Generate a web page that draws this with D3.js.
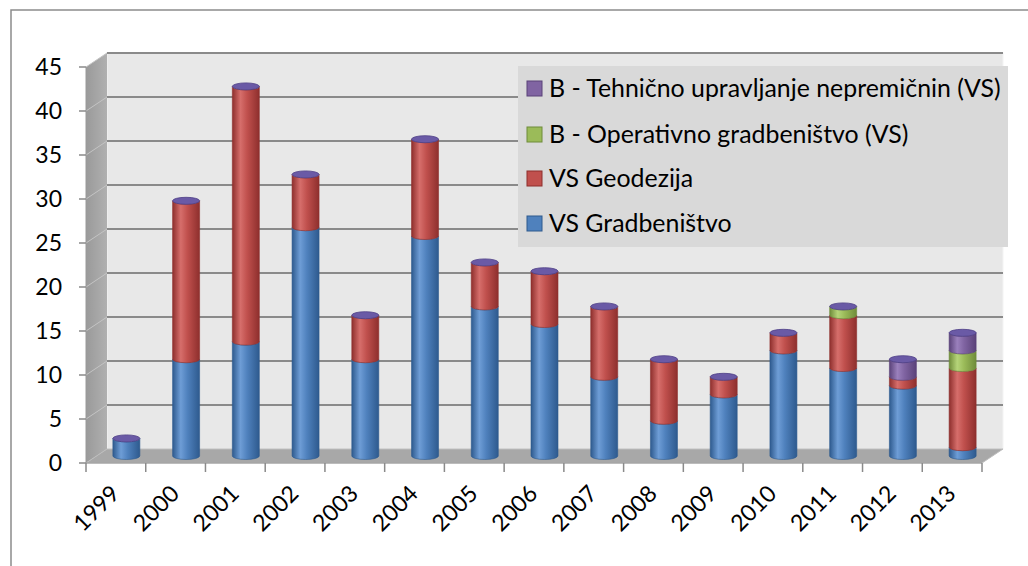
<!DOCTYPE html>
<html><head><meta charset="utf-8">
<script src="https://cdn.jsdelivr.net/npm/d3@7"></script>
<style>html,body{margin:0;padding:0;background:#fff;}svg{display:block;}</style>
</head><body>
<svg id="c" width="1028" height="566"></svg>
<script>
const years = ["1999","2000","2001","2002","2003","2004","2005","2006","2007","2008","2009","2010","2011","2012","2013"];
const gradbenistvo = [2,11,13,26,11,25,17,15,9,4,7,12,10,8,1];
const geodezija    = [0,18,29,6,5,11,5,6,8,7,2,2,6,1,9];
const operativno   = [0,0,0,0,0,0,0,0,0,0,0,0,1,0,2];
const tehnicno     = [0,0,0,0,0,0,0,0,0,0,0,0,0,2,2];
const seriesNames = ["VS Gradbeništvo","VS Geodezija","B - Operativno gradbeništvo (VS)","B - Tehnično upravljanje nepremičnin (VS)"];
const yTicks = [0,5,10,15,20,25,30,35,40,45];

const svg = d3.select("#c");
const font = "Lato, 'Liberation Sans', sans-serif";
const colors = [
  {base:"#4F81BD", dark:"#2E5A8E", light:"#6E9DD6"},
  {base:"#C0504D", dark:"#8E2F2D", light:"#D66E6B"},
  {base:"#9BBB59", dark:"#6F8C3A", light:"#B5D479"},
  {base:"#8064A2", dark:"#5A4279", light:"#9A80BC"}
];

const x0 = 86, x1 = 982, depthX = 21, depthY = -14;
const x = d3.scaleBand().domain(years).range([x0, x1]).paddingInner(0).paddingOuter(0);
const y = d3.scaleLinear().domain([0,45]).range([463,67]);

svg.append("path").attr("d","M11,566 L11,10 L1028,10").attr("fill","none").attr("stroke","#8c8c8c").attr("stroke-width",1.5);

const defs = svg.append("defs");
colors.forEach((c,i)=>{
  const g = defs.append("linearGradient").attr("id","g"+i).attr("x1","0").attr("x2","1").attr("y1","0").attr("y2","0");
  g.append("stop").attr("offset","0%").attr("stop-color",c.dark);
  g.append("stop").attr("offset","30%").attr("stop-color",c.light);
  g.append("stop").attr("offset","55%").attr("stop-color",c.base);
  g.append("stop").attr("offset","100%").attr("stop-color",c.dark);
});
const sg = defs.append("linearGradient").attr("id","side").attr("x1","0").attr("x2","1");
sg.append("stop").attr("offset","0%").attr("stop-color","#9a9a9a");
sg.append("stop").attr("offset","100%").attr("stop-color","#b0b0b0");

svg.append("rect").attr("x",x0+depthX).attr("y",y(45)+depthY).attr("width",x1-x0).attr("height",y(0)-y(45))
  .attr("fill","#e8e8e8").attr("stroke","#f4f4f4").attr("stroke-width",1);
svg.append("path").attr("d",`M${x0},${y(45)} L${x0+depthX},${y(45)+depthY} L${x0+depthX},${y(0)+depthY} L${x0},${y(0)} Z`)
  .attr("fill","url(#side)");
svg.append("path").attr("d",`M${x0},${y(0)} L${x0+depthX},${y(0)+depthY} L${x1+depthX},${y(0)+depthY} L${x1},${y(0)} Z`)
  .attr("fill","#a8a8a8").attr("stroke","#bdbdbd").attr("stroke-width",1);

yTicks.filter(v=>v>0).forEach(v=>{
  svg.append("line").attr("x1",x0+depthX).attr("x2",x1+depthX).attr("y1",y(v)+depthY).attr("y2",y(v)+depthY)
    .attr("stroke","#8a8a8a").attr("stroke-width",2);
  svg.append("line").attr("x1",x0).attr("x2",x0+depthX).attr("y1",y(v)).attr("y2",y(v)+depthY)
    .attr("stroke","#c4c4c4").attr("stroke-width",1);
});

svg.append("line").attr("x1",x0).attr("x2",x0).attr("y1",y(45)).attr("y2",y(0)).attr("stroke","#9a9a9a").attr("stroke-width",1);
const yg = svg.append("g");
yTicks.forEach(v=>{
  yg.append("line").attr("x1",x0-7).attr("x2",x0).attr("y1",y(v)).attr("y2",y(v)).attr("stroke","#8a8a8a").attr("stroke-width",1.5);
  yg.append("text").attr("x",62).attr("y",y(v)).attr("dy","0.36em").attr("text-anchor","end")
    .attr("font-family",font).attr("font-size",23).attr("fill","#000").text(v);
});

svg.append("line").attr("x1",x0).attr("x2",x1).attr("y1",y(0)).attr("y2",y(0)).attr("stroke","#9a9a9a").attr("stroke-width",1);
const ticksX = years.map(d=>x(d)).concat([x1]);
ticksX.forEach(tx=>{
  svg.append("line").attr("x1",tx).attr("x2",tx).attr("y1",y(0)).attr("y2",y(0)+9).attr("stroke","#8a8a8a").attr("stroke-width",1.5);
});
years.forEach(d=>{
  const cx = x(d)+x.bandwidth()/2;
  svg.append("text").attr("text-anchor","end").attr("font-family",font).attr("font-size",23).attr("fill","#000")
    .attr("transform",`translate(${cx+5},${495}) rotate(-45)`).text(d);
});

const data = [gradbenistvo, geodezija, operativno, tehnicno];
const rx = 13.5, ry = 3.5;
const bars = svg.append("g");
years.forEach((d,i)=>{
  const cx = x(d)+x.bandwidth()/2 + depthX/2;
  const yy = v => y(v) + depthY/2;
  let cum = 0;
  const xl = cx-rx, xr = cx+rx;
  data.forEach((s,k)=>{
    const v = s[i];
    if(v<=0) return;
    const yb = yy(cum), yt = yy(cum+v);
    cum += v;
    bars.append("path")
      .attr("d",`M${xl},${yb} A${rx},${ry} 0 0 0 ${xr},${yb} L${xr},${yt} A${rx},${ry} 0 0 1 ${xl},${yt} Z`)
      .attr("fill",`url(#g${k})`).attr("stroke",colors[k].dark).attr("stroke-width",0.6);
  });
  bars.append("ellipse").attr("cx",cx).attr("cy",yy(cum)).attr("rx",rx).attr("ry",ry)
    .attr("fill","#6a5aa6").attr("stroke","#4e3f86").attr("stroke-width",0.8);
});

const lg = svg.append("g");
lg.append("rect").attr("x",518).attr("y",66).attr("width",490).attr("height",181).attr("fill","#d9d9d9");
const legendOrder = [3,2,1,0];
const rowsY = [88,134,178,223];
legendOrder.forEach((k,j)=>{
  lg.append("rect").attr("x",527).attr("y",rowsY[j]-7).attr("width",15).attr("height",15)
    .attr("fill",colors[k].base).attr("stroke",colors[k].dark).attr("stroke-width",1);
  lg.append("text").attr("x",549).attr("y",rowsY[j]).attr("dy","0.36em").attr("font-family",font)
    .attr("font-size",22).attr("fill","#000").attr("class","lt").text(seriesNames[k]);
});
const first = lg.selectAll("text.lt").nodes()[0];
const w = first.getComputedTextLength();
const fs = 22*452/w;
lg.selectAll("text.lt").attr("font-size",fs);
</script>
</body></html>
